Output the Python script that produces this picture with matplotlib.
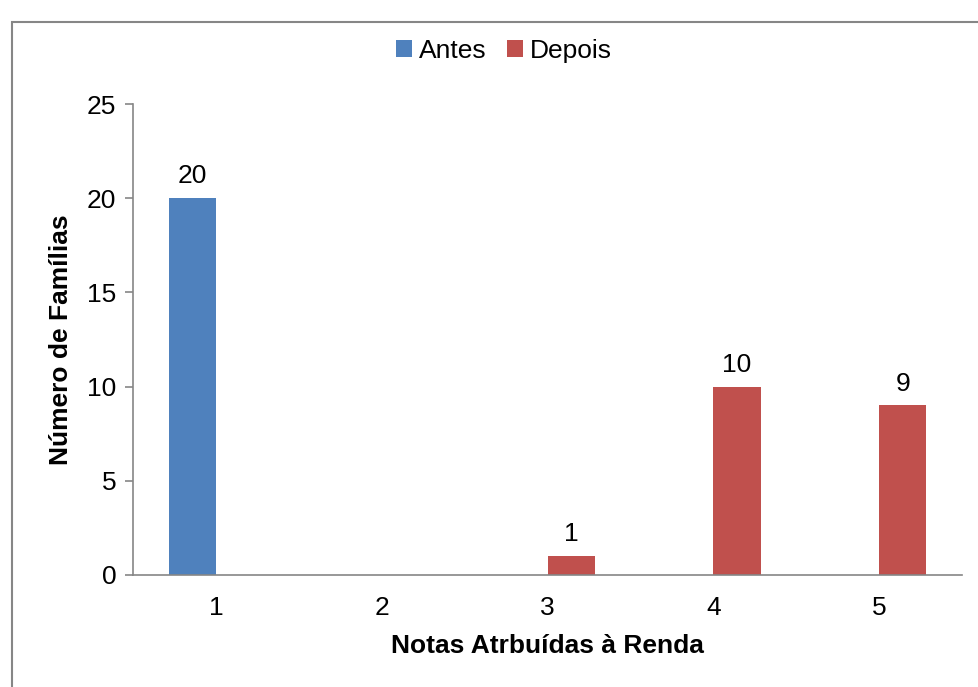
import matplotlib
matplotlib.use("Agg")
import matplotlib.pyplot as plt
import numpy as np
from matplotlib.patches import Rectangle

plt.rcParams['font.family'] = ['Liberation Sans', 'DejaVu Sans']

categories = ["1", "2", "3", "4", "5"]
antes = [20, 0, 0, 0, 0]
depois = [0, 0, 1, 10, 9]
series_names = ["Antes", "Depois"]
y_ticks = [0, 5, 10, 15, 20, 25]

blue = "#4F81BD"
red = "#C0504D"
axis_gray = "#868686"
fs = 19

fig = plt.figure(figsize=(9.79, 6.87), dpi=100)
ax = fig.add_axes([133 / 979, 1 - 575 / 687, (962 - 133) / 979, (575 - 104) / 687])

x = np.arange(1, len(categories) + 1)
w = 0.285
b1 = ax.bar(x - w / 2, antes, width=w, color=blue, label=series_names[0])
b2 = ax.bar(x + w / 2, depois, width=w, color=red, label=series_names[1])

# value labels only on non-empty bars
for bars, vals in ((b1, antes), (b2, depois)):
    for rect, v in zip(bars, vals):
        if v > 0:
            ax.annotate(str(v), (rect.get_x() + rect.get_width() / 2, v),
                        xytext=(0, 7), textcoords="offset points",
                        ha="center", va="bottom", fontsize=fs)

ax.set_xlim(0.5, 5.5)
ax.set_ylim(0, 25)
ax.set_yticks(y_ticks)
ax.set_xticks(x)
ax.set_xticklabels(categories)

for s in ("top", "right"):
    ax.spines[s].set_visible(False)
for s in ("left", "bottom"):
    ax.spines[s].set_color(axis_gray)
    ax.spines[s].set_linewidth(1.2)

ax.tick_params(axis="y", direction="out", length=6, width=1.2, color=axis_gray,
               labelsize=fs, pad=6)
ax.tick_params(axis="x", length=0, labelsize=fs, pad=15)

ax.set_xlabel("Notas Atrbuídas à Renda", fontsize=fs, fontweight="bold", labelpad=10)
ax.set_ylabel("Número de Famílias", fontsize=fs, fontweight="bold", labelpad=10)

leg = fig.legend(handles=[b1, b2], labels=series_names, loc="center",
                 bbox_to_anchor=(504 / 979, 1 - 51 / 687), ncol=2, frameon=False,
                 fontsize=fs, handlelength=0.6, handleheight=0.6,
                 handletextpad=0.25, columnspacing=0.8)

# chart area border
fig.patches.append(Rectangle((12 / 979, -0.05), 1.2, 1 - 22 / 687 + 0.05,
                             transform=fig.transFigure, fill=False,
                             edgecolor=axis_gray, linewidth=1.5))

fig.savefig("out.png", dpi=100)
